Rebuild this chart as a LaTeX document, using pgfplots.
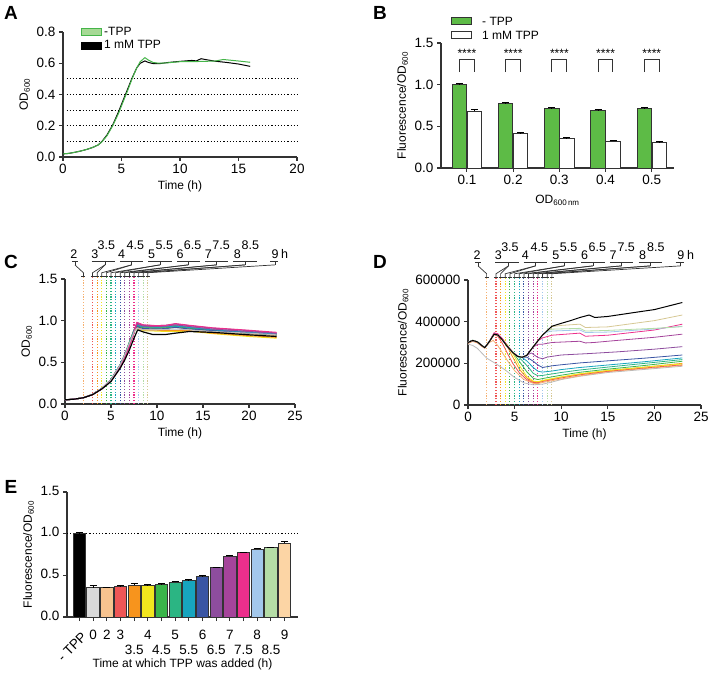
\documentclass[border=0pt]{standalone}
\usepackage{fontspec}
\setmainfont{Liberation Sans}
\usepackage{pgfplots}
\pgfplotsset{compat=1.18}

\definecolor{cgreen}{HTML}{5DBB46}
\definecolor{lgreen}{HTML}{A6D995}
\definecolor{agreen}{HTML}{45B549}
\definecolor{c0}{HTML}{D9D9D9}
\definecolor{c2}{HTML}{F7C38F}
\definecolor{c3}{HTML}{EF5656}
\definecolor{c35}{HTML}{F7941D}
\definecolor{c4}{HTML}{F2E61E}
\definecolor{c45}{HTML}{3AB54A}
\definecolor{c5}{HTML}{2BB583}
\definecolor{c55}{HTML}{17A5BF}
\definecolor{c6}{HTML}{3A55A4}
\definecolor{c65}{HTML}{8E4D9E}
\definecolor{c7}{HTML}{A5449B}
\definecolor{c75}{HTML}{EC2F8C}
\definecolor{c8}{HTML}{A3C8EC}
\definecolor{c85}{HTML}{B5DDA6}
\definecolor{c9}{HTML}{FCD5A5}
\definecolor{c9l}{HTML}{D6C894}
\definecolor{c2l}{HTML}{F5B070}
\definecolor{c0l}{HTML}{BBBBBB}
\definecolor{axc}{HTML}{333333}

\newcommand\tkf{\fontsize{13.5}{15}\selectfont}
\newcommand\lbf{\fontsize{12}{14}\selectfont}
\newcommand\anf{\fontsize{12.5}{14}\selectfont}

\pgfplotsset{
  panel/.style={
    scale only axis, axis lines=left,
    axis line style={-, line width=1.1pt, axc},
    tick style={line width=1.1pt, axc}, tick align=outside, major tick length=4pt,
    tick label style={font=\tkf},
    label style={font=\lbf},
    /pgf/number format/assume math mode=true,
    clip=false,
  },
  eb/.style={draw=axc, line width=0.8pt,
    error bars/y dir=plus, error bars/y explicit,
    error bars/error bar style={line width=1pt, black},
    error bars/error mark options={rotate=90, mark size=3.5pt, line width=1pt, black}},
}

% vertical dotted line at a time (rel x = t/25)
\newcommand{\annV}[2]{\draw[#1, dash pattern=on 1.2pt off 1.6pt, line width=1.1pt] (rel axis cs:#2,0) -- (rel axis cs:#2,1.02);}
% leader from underline tick (#2) to time (#1)
\newcommand{\annD}[2]{%
  \draw[axc, line width=0.7pt] (rel axis cs:#2,1.113) -- (rel axis cs:#1,1.05) -- (rel axis cs:#1,1.024);
  \draw[axc, line width=0.7pt] ([xshift=-2pt]rel axis cs:#1,1.024) -- ([xshift=2pt]rel axis cs:#1,1.024);}
\newcommand{\annU}[3]{%
  \draw[axc, line width=0.7pt] (rel axis cs:#1,1.145) -- (rel axis cs:#2,1.145);
  \draw[axc, line width=0.7pt] (rel axis cs:#3,1.145) -- (rel axis cs:#3,1.113);}
\newcommand{\annL}[2]{\node[anchor=base, font=\anf, inner sep=0pt] at (rel axis cs:#1,1.16) {#2};}
\newcommand{\annS}[2]{\node[anchor=base, font=\anf, inner sep=0pt] at (rel axis cs:#1,1.232) {#2};}
\newcommand{\timelines}{%
  \annV{c2l}{0.08}\annV{c3}{0.12}\annV{c35}{0.14}\annV{c4}{0.16}\annV{c45}{0.18}
  \annV{c5}{0.20}\annV{c55}{0.22}\annV{c6}{0.24}\annV{c65}{0.26}\annV{c7}{0.28}
  \annV{c75}{0.30}\annV{c8}{0.32}\annV{c85}{0.34}\annV{c9l}{0.36}}
\newcommand{\timeannot}{%
  \annU{0.030}{0.056}{0.043}\annD{0.08}{0.043}\annL{0.039}{2}
  \annU{0.116}{0.217}{0.174}\annD{0.12}{0.174}\annD{0.14}{0.174}\annL{0.130}{3}\annS{0.180}{3.5}
  \annU{0.239}{0.341}{0.290}\annD{0.16}{0.290}\annD{0.18}{0.290}\annL{0.246}{4}\annS{0.306}{4.5}
  \annU{0.362}{0.464}{0.413}\annD{0.20}{0.413}\annD{0.22}{0.413}\annL{0.377}{5}\annS{0.432}{5.5}
  \annU{0.486}{0.587}{0.536}\annD{0.24}{0.536}\annD{0.26}{0.536}\annL{0.500}{6}\annS{0.555}{6.5}
  \annU{0.609}{0.710}{0.659}\annD{0.28}{0.659}\annD{0.30}{0.659}\annL{0.623}{7}\annS{0.679}{7.5}
  \annU{0.732}{0.833}{0.783}\annD{0.32}{0.783}\annD{0.34}{0.783}\annL{0.749}{8}\annS{0.806}{8.5}
  \annU{0.891}{0.927}{0.913}\annD{0.36}{0.913}\annL{0.913}{9}\annL{0.955}{h}}

\begin{document}
\begin{tikzpicture}
\useasboundingbox (0pt,0pt) rectangle (708pt,677pt);

\node[font=\bfseries\fontsize{19}{20}\selectfont] at (11pt,664pt) {A};
\node[font=\bfseries\fontsize{19}{20}\selectfont] at (380pt,664pt) {B};
\node[font=\bfseries\fontsize{19}{20}\selectfont] at (11pt,415pt) {C};
\node[font=\bfseries\fontsize{19}{20}\selectfont] at (380pt,415pt) {D};
\node[font=\bfseries\fontsize{19}{20}\selectfont] at (11pt,190pt) {E};

% ---------------- A ----------------
\begin{axis}[panel, at={(63pt,520pt)}, anchor=south west, width=234pt, height=125pt,
  xmin=0, xmax=20, ymin=0, ymax=0.8,
  xtick={0,5,10,15,20}, ytick={0,0.2,0.4,0.6,0.8},
  yticklabel style={/pgf/number format/.cd, fixed, fixed zerofill, precision=1},
  xlabel={Time (h)}, ylabel={OD\textsubscript{600}},
  legend style={draw=none, fill=none, at={(rel axis cs:0.065,1.075)}, anchor=north west,
    font=\lbf, row sep=0pt},
  legend cell align=left,
  legend image code/.code={\draw[#1] (0pt,-3.5pt) rectangle (20pt,3.5pt);},
]
\addplot[forget plot, black, dash pattern=on 1.2pt off 2pt, line width=1.2pt] coordinates {(0.3,0.1) (20,0.1)};
\addplot[forget plot, black, dash pattern=on 1.2pt off 2pt, line width=1.2pt] coordinates {(0.3,0.2) (20,0.2)};
\addplot[forget plot, black, dash pattern=on 1.2pt off 2pt, line width=1.2pt] coordinates {(0.3,0.3) (20,0.3)};
\addplot[forget plot, black, dash pattern=on 1.2pt off 2pt, line width=1.2pt] coordinates {(0.3,0.4) (20,0.4)};
\addplot[forget plot, black, dash pattern=on 1.2pt off 2pt, line width=1.2pt] coordinates {(0.3,0.5) (20,0.5)};
\addplot[forget plot, black, line width=1pt] coordinates {
 (0,0.02)(0.5,0.023)(1,0.03)(1.5,0.038)(2,0.048)(2.5,0.06)(3,0.077)(3.3,0.097)(3.75,0.14)
 (4.25,0.205)(4.75,0.29)(5.2,0.375)(5.5,0.43)(5.9,0.505)(6.3,0.57)(6.6,0.6)(7,0.615)(7.3,0.605)
 (7.7,0.598)(8.2,0.597)(9,0.605)(10,0.612)(11,0.618)(11.4,0.615)(11.8,0.629)(12.3,0.622)
 (13,0.613)(14,0.605)(15,0.595)(16,0.58)};
\addplot[forget plot, agreen, line width=1pt] coordinates {
 (0,0.02)(0.5,0.023)(1,0.03)(1.5,0.038)(2,0.048)(2.5,0.06)(3,0.077)(3.3,0.095)(3.75,0.135)
 (4.25,0.2)(4.75,0.28)(5.2,0.365)(5.5,0.42)(5.9,0.5)(6.3,0.57)(6.6,0.61)(7,0.636)(7.3,0.62)
 (7.7,0.605)(8.2,0.6)(9,0.603)(10,0.61)(11,0.61)(12,0.612)(13,0.614)(13.7,0.624)(14.5,0.618)
 (15.3,0.612)(16,0.606)};
\addlegendimage{fill=lgreen, draw=agreen, line width=0.8pt}
\addlegendentry{-TPP}
\addlegendimage{fill=black, draw=black, line width=0.8pt}
\addlegendentry{1 mM TPP}
\end{axis}

% ---------------- B ----------------
\begin{axis}[panel, at={(441pt,509pt)}, anchor=south west, width=233pt, height=125pt,
  ybar=0.5pt, bar width=14.5pt,
  xmin=-0.56, xmax=4.48, ymin=0, ymax=1.5,
  xtick={0,1,2,3,4}, xticklabels={0.1,0.2,0.3,0.4,0.5},
  ytick={0,0.5,1,1.5},
  yticklabel style={/pgf/number format/.cd, fixed, fixed zerofill, precision=1},
  xlabel={OD\textsubscript{600\,nm}}, ylabel={Fluorescence/OD\textsubscript{600}},
  xlabel style={yshift=-3pt},
]
\addplot[eb, fill=cgreen] coordinates {
 (0,1.0) +- (0,0.015) (1,0.77) +- (0,0.02) (2,0.71) +- (0,0.015) (3,0.69) +- (0,0.01) (4,0.715) +- (0,0.006)};
\addplot[eb, fill=white] coordinates {
 (0,0.685) +- (0,0.015) (1,0.415) +- (0,0.006) (2,0.36) +- (0,0.005) (3,0.325) +- (0,0.005) (4,0.31) +- (0,0.005)};
\draw[axc, line width=1pt] (axis cs:-0.16,1.15) |- (axis cs:0.16,1.3) -- (axis cs:0.16,1.15);
\draw[axc, line width=1pt] (axis cs:0.84,1.15) |- (axis cs:1.16,1.3) -- (axis cs:1.16,1.15);
\draw[axc, line width=1pt] (axis cs:1.84,1.15) |- (axis cs:2.16,1.3) -- (axis cs:2.16,1.15);
\draw[axc, line width=1pt] (axis cs:2.84,1.15) |- (axis cs:3.16,1.3) -- (axis cs:3.16,1.15);
\draw[axc, line width=1pt] (axis cs:3.84,1.15) |- (axis cs:4.16,1.3) -- (axis cs:4.16,1.15);
\node[font=\fontsize{12}{12}\selectfont] at (axis cs:0,1.37) {****};
\node[font=\fontsize{12}{12}\selectfont] at (axis cs:1,1.37) {****};
\node[font=\fontsize{12}{12}\selectfont] at (axis cs:2,1.37) {****};
\node[font=\fontsize{12}{12}\selectfont] at (axis cs:3,1.37) {****};
\node[font=\fontsize{12}{12}\selectfont] at (axis cs:4,1.37) {****};
% legend swatches
\draw[fill=cgreen, draw=axc, line width=0.8pt] ([yshift=-3.5pt]rel axis cs:0.043,1.176) rectangle ([xshift=20pt,yshift=3.5pt]rel axis cs:0.043,1.176);
\node[anchor=west, font=\lbf, inner sep=0pt] at ([xshift=31pt]rel axis cs:0.043,1.176) {- TPP};
\draw[fill=white, draw=axc, line width=0.8pt] ([yshift=-3.5pt]rel axis cs:0.043,1.064) rectangle ([xshift=20pt,yshift=3.5pt]rel axis cs:0.043,1.064);
\node[anchor=west, font=\lbf, inner sep=0pt] at ([xshift=31pt]rel axis cs:0.043,1.064) {1 mM TPP};
\end{axis}

% ---------------- C ----------------
\begin{axis}[panel, at={(65pt,273pt)}, anchor=south west, width=230pt, height=125pt,
  xmin=0, xmax=25, ymin=0, ymax=1.5,
  xtick={0,5,10,15,20,25}, ytick={0,0.5,1,1.5},
  yticklabel style={/pgf/number format/.cd, fixed, fixed zerofill, precision=1},
  xlabel={Time (h)}, ylabel={OD\textsubscript{600}},
  every axis plot/.append style={line width=1pt, line join=round},
]
\timelines
\addplot[c9l] coordinates {(0,.05)(1,.058)(2,.075)(3,.115)(4,.185)(5,.29)(6,.47)(6.5,.59)(7,.73)(7.5,.875)(7.8,.93)(8.5,.91)(10,.905)(11,.91)(12,.92)(13.5,.905)(16,.875)(20,.845)(23,.82)};
\addplot[c85] coordinates {(0,.05)(1,.058)(2,.075)(3,.115)(4,.185)(5,.29)(6,.47)(6.5,.59)(7,.73)(7.5,.88)(7.8,.94)(8.5,.92)(10,.915)(11,.92)(12,.93)(13.5,.915)(16,.885)(20,.86)(23,.84)};
\addplot[c8] coordinates {(0,.05)(1,.058)(2,.075)(3,.115)(4,.185)(5,.29)(6,.47)(6.5,.59)(7,.73)(7.5,.88)(7.8,.95)(8.5,.925)(10,.92)(11,.925)(12,.94)(13.5,.92)(16,.89)(20,.86)(23,.84)};
\addplot[c4] coordinates {(0,.05)(1,.058)(2,.075)(3,.115)(4,.185)(5,.29)(6,.47)(6.5,.59)(7,.72)(7.5,.86)(7.8,.91)(8.5,.88)(10,.875)(11,.87)(12,.87)(13.5,.875)(16,.845)(20,.81)(23,.79)};
\addplot[c35] coordinates {(0,.05)(1,.058)(2,.075)(3,.115)(4,.185)(5,.29)(6,.47)(6.5,.59)(7,.73)(7.5,.87)(7.8,.92)(8.5,.89)(10,.885)(11,.88)(12,.88)(13.5,.88)(16,.85)(20,.82)(23,.80)};
\addplot[c2] coordinates {(0,.05)(1,.058)(2,.075)(3,.115)(4,.186)(5,.29)(6,.47)(6.5,.59)(7,.74)(7.5,.88)(7.8,.93)(8.5,.91)(10,.905)(11,.91)(12,.92)(13.5,.90)(16,.87)(20,.84)(23,.82)};
\addplot[c3] coordinates {(0,.05)(1,.058)(2,.075)(3,.115)(4,.185)(5,.29)(6,.47)(6.5,.59)(7,.74)(7.5,.89)(7.8,.95)(8.5,.925)(10,.92)(11,.925)(12,.94)(13.5,.92)(16,.89)(20,.86)(23,.83)};
\addplot[c45] coordinates {(0,.05)(1,.058)(2,.075)(3,.115)(4,.185)(5,.29)(6,.47)(6.5,.59)(7,.74)(7.5,.88)(7.8,.94)(8.5,.915)(10,.91)(11,.915)(12,.93)(13.5,.91)(16,.88)(20,.85)(23,.83)};
\addplot[c5] coordinates {(0,.05)(1,.058)(2,.075)(3,.115)(4,.185)(5,.29)(6,.47)(6.5,.59)(7,.74)(7.5,.89)(7.8,.95)(8.5,.925)(10,.92)(11,.925)(12,.94)(13.5,.92)(16,.89)(20,.86)(23,.84)};
\addplot[c55] coordinates {(0,.05)(1,.058)(2,.075)(3,.115)(4,.185)(5,.29)(6,.47)(6.5,.59)(7,.73)(7.5,.88)(7.8,.94)(8.5,.93)(10,.925)(11,.93)(12,.935)(13.5,.92)(16,.89)(20,.86)(23,.84)};
\addplot[c6] coordinates {(0,.05)(1,.058)(2,.075)(3,.115)(4,.185)(5,.29)(6,.47)(6.5,.59)(7,.72)(7.5,.87)(7.8,.93)(8.5,.905)(10,.90)(11,.905)(12,.92)(13.5,.90)(16,.88)(20,.85)(23,.83)};
\addplot[c7] coordinates {(0,.05)(1,.058)(2,.075)(3,.115)(4,.185)(5,.29)(6,.46)(6.5,.58)(7,.70)(7.5,.86)(7.8,.96)(8.5,.935)(10,.93)(11,.935)(12,.95)(13.5,.93)(16,.90)(20,.87)(23,.85)};
\addplot[c65] coordinates {(0,.05)(1,.058)(2,.075)(3,.115)(4,.185)(5,.29)(6,.46)(6.5,.58)(7,.71)(7.5,.87)(7.8,.97)(8.5,.945)(10,.94)(11,.945)(12,.96)(13.5,.94)(16,.91)(20,.88)(23,.85)};
\addplot[c75] coordinates {(0,.05)(1,.058)(2,.075)(3,.113)(4,.18)(5,.28)(6,.44)(6.5,.55)(7,.69)(7.5,.86)(7.8,.98)(8.5,.95)(10,.94)(11,.945)(12,.965)(13.5,.945)(16,.915)(20,.885)(23,.86)};
\addplot[c0l] coordinates {(0,.05)(1,.058)(2,.076)(3,.116)(4,.186)(5,.29)(6,.47)(6.5,.59)(7,.73)(7.5,.86)(7.8,.91)(8.5,.89)(10,.89)(11,.895)(12,.90)(13.5,.89)(16,.87)(20,.85)(23,.83)};
\addplot[black, line width=1.2pt] coordinates {(0,.05)(1,.058)(2,.075)(3,.112)(4,.18)(5,.27)(6,.43)(6.5,.53)(7,.65)(7.5,.79)(7.9,.89)(8.5,.865)(9.5,.835)(11,.835)(12,.85)(13.5,.87)(16,.86)(20,.83)(23,.81)};
\timeannot
\end{axis}

% ---------------- D ----------------
\begin{axis}[panel, at={(468pt,272pt)}, anchor=south west, width=233pt, height=125pt,
  xmin=0, xmax=25, ymin=0, ymax=600000,
  xtick={0,5,10,15,20,25}, ytick={0,200000,400000,600000},
  scaled y ticks=false,
  yticklabel style={/pgf/number format/.cd, fixed, 1000 sep={}},
  xlabel={Time (h)}, ylabel={Fluorescence/OD\textsubscript{600}},
  every axis plot/.append style={line width=0.8pt, line join=round},
]
\timelines
\addplot[c0l] coordinates {(0,292000)(0.5,286000)(1,272000)(2,225000)(3,198000)(4,168000)(5,132000)(6,106000)(7,97000)(8,100000)(9,110000)(10,122000)(12,138000)(15,156000)(19,171000)(23,186000)};
\addplot[c2l] coordinates {(0,296000)(0.5,305000)(1,298000)(1.5,280000)(1.8,272000)(2.3,300000)(2.7,310000)(3.2,285000)(3.7,250000)(4.2,215000)(5,165000)(6,122000)(7,104000)(7.5,103000)(8,108000)(10,125000)(12,140000)(15,160000)(19,175000)(23,190000)};
\addplot[c3] coordinates {(0,298000)(0.5,308000)(1,301000)(1.5,283000)(1.8,274000)(2.3,303000)(2.8,338000)(3.2,330000)(3.7,295000)(4.2,250000)(4.8,200000)(5.5,155000)(6.3,122000)(7,108000)(7.5,107000)(8,113000)(10,130000)(12,145000)(15,162000)(19,178000)(23,193000)};
\addplot[c35] coordinates {(0,300000)(0.5,309000)(1,302000)(1.5,284000)(1.8,275000)(2.3,304000)(2.8,339000)(3.2,335000)(3.7,318000)(4.2,282000)(4.8,230000)(5.5,172000)(6.3,130000)(7,112000)(7.5,110000)(8,116000)(10,134000)(12,148000)(15,165000)(19,182000)(23,200000)};
\addplot[c4] coordinates {(0,300000)(0.5,310000)(1,303000)(1.5,285000)(1.8,275000)(2.3,305000)(2.8,340000)(3.2,336000)(3.7,312000)(4.2,290000)(4.8,248000)(5.5,190000)(6.3,138000)(7,115000)(7.5,112000)(8,118000)(10,135000)(12,150000)(15,166000)(19,182000)(23,197000)};
\addplot[c45] coordinates {(0,301000)(0.5,311000)(1,304000)(1.5,286000)(1.8,276000)(2.3,306000)(2.8,341000)(3.2,337000)(3.7,313000)(4.2,282000)(4.8,255000)(5.5,210000)(6.3,160000)(7,128000)(7.5,122000)(8,127000)(10,143000)(12,157000)(15,172000)(19,190000)(23,210000)};
\addplot[c5] coordinates {(0,300000)(0.5,310000)(1,303000)(1.5,285000)(1.8,275000)(2.3,305000)(2.8,340000)(3.2,336000)(3.7,312000)(4.2,282000)(4.8,252000)(5.3,236000)(6,205000)(6.5,180000)(7,152000)(7.5,140000)(8,142000)(10,156000)(12,168000)(15,182000)(19,200000)(23,218000)};
\addplot[c55] coordinates {(0,300000)(0.5,310000)(1,303000)(1.5,285000)(1.8,275000)(2.3,305000)(2.8,340000)(3.2,336000)(3.7,312000)(4.2,282000)(4.8,252000)(5.3,234000)(5.8,228000)(6.3,212000)(7,180000)(7.5,162000)(8,158000)(9,163000)(10,170000)(12,180000)(15,192000)(19,208000)(23,226000)};
\addplot[c6] coordinates {(0,300000)(0.5,310000)(1,303000)(1.5,285000)(1.8,275000)(2.3,305000)(2.8,340000)(3.2,336000)(3.7,312000)(4.2,282000)(4.8,252000)(5.3,234000)(5.8,229000)(6.3,230000)(7,210000)(7.5,192000)(8,180000)(9,188000)(10,193000)(12,202000)(15,212000)(19,225000)(23,240000)};
\addplot[c65] coordinates {(0,300000)(0.5,310000)(1,303000)(1.5,285000)(1.8,275000)(2.3,305000)(2.8,342000)(3.2,338000)(3.7,314000)(4.2,283000)(4.8,252000)(5.3,234000)(5.8,229000)(6.3,238000)(6.8,250000)(7.5,228000)(8,222000)(8.5,230000)(10,240000)(13,247000)(16,255000)(20,268000)(23,280000)};
\addplot[c7] coordinates {(0,300000)(0.5,310000)(1,303000)(1.5,285000)(1.8,275000)(2.3,305000)(2.8,344000)(3.2,340000)(3.7,316000)(4.2,284000)(4.8,253000)(5.3,234000)(5.8,229000)(6.3,238000)(7,278000)(7.5,292000)(8,292000)(9,300000)(12,306000)(12.6,298000)(13.5,300000)(16,310000)(20,325000)(23,340000)};
\addplot[c75] coordinates {(0,300000)(0.5,310000)(1,303000)(1.5,285000)(1.8,275000)(2.3,306000)(2.8,347000)(3.2,342000)(3.7,318000)(4.2,286000)(4.8,254000)(5.3,235000)(5.8,229000)(6.3,238000)(7,280000)(7.5,308000)(8,322000)(9,335000)(12,345000)(12.6,330000)(15,335000)(20,360000)(23,388000)};
\addplot[c8] coordinates {(0,300000)(0.5,310000)(1,303000)(1.5,285000)(1.8,275000)(2.3,305000)(2.8,340000)(3.2,336000)(3.7,312000)(4.2,282000)(4.8,252000)(5.3,234000)(5.8,229000)(6.3,238000)(7,280000)(7.5,308000)(8,336000)(8.5,350000)(9,355000)(12,360000)(12.6,348000)(15,350000)(20,365000)(23,378000)};
\addplot[c85] coordinates {(0,300000)(0.5,310000)(1,303000)(1.5,285000)(1.8,275000)(2.3,305000)(2.8,340000)(3.2,336000)(3.7,312000)(4.2,282000)(4.8,252000)(5.3,234000)(5.8,229000)(6.3,238000)(7,280000)(7.5,308000)(8,336000)(8.5,356000)(9,364000)(12,368000)(12.6,355000)(15,358000)(20,368000)(23,376000)};
\addplot[c9l] coordinates {(0,300000)(0.5,310000)(1,303000)(1.5,285000)(1.8,275000)(2.3,305000)(2.8,340000)(3.2,336000)(3.7,312000)(4.2,282000)(4.8,252000)(5.3,234000)(5.8,229000)(6.3,238000)(7,280000)(7.5,308000)(8,336000)(9,376000)(10,382000)(12,388000)(12.6,372000)(15,375000)(20,405000)(23,432000)};
\addplot[black, line width=1pt] coordinates {(0,300000)(0.5,310000)(1,303000)(1.5,285000)(1.8,275000)(2.3,305000)(2.8,340000)(3.2,336000)(3.7,312000)(4.2,282000)(4.8,252000)(5.3,234000)(5.8,229000)(6.3,238000)(7,280000)(7.5,308000)(8,336000)(9,378000)(10,392000)(11,405000)(12,420000)(13,432000)(13.6,420000)(15,425000)(18,445000)(20,458000)(23,492000)};
\timeannot
\end{axis}

% ---------------- E ----------------
\begin{axis}[panel, at={(67pt,60pt)}, anchor=south west, width=231pt, height=125pt,
  ybar, bar width=12.5pt,
  xmin=-0.91, xmax=15.98, ymin=0, ymax=1.5,
  xtick={1,...,15},
  xticklabels={0,2,3,{\\3.5},4,{\\4.5},5,{\\5.5},6,{\\6.5},7,{\\7.5},8,{\\8.5},9},
  xticklabel style={align=center, font=\tkf, yshift=-4pt},
  typeset ticklabels with strut,
  extra x ticks={0}, extra x tick labels={- TPP},
  extra x tick style={xticklabel style={rotate=45, anchor=north east, xshift=0pt, yshift=-1pt}},
  ytick={0,0.5,1,1.5},
  yticklabel style={/pgf/number format/.cd, fixed, fixed zerofill, precision=1},
  xlabel={Time at which TPP was added (h)}, ylabel={Fluorescence/OD\textsubscript{600}},
  xlabel style={at={(rel axis cs:0.5,0)}, anchor=center, yshift=-47pt},
]
\addplot[forget plot, sharp plot, black, dash pattern=on 1.2pt off 2pt, line width=1.2pt] coordinates {(-0.91,1) (15.98,1)};
\addplot[eb, bar shift=0pt, fill=black] coordinates {(0,1.0) +- (0,0.02)};
\addplot[eb, bar shift=0pt, fill=c0] coordinates {(1,0.35) +- (0,0.03)};
\addplot[eb, bar shift=0pt, fill=c2] coordinates {(2,0.35) +- (0,0.01)};
\addplot[eb, bar shift=0pt, fill=c3] coordinates {(3,0.365) +- (0,0.01)};
\addplot[eb, bar shift=0pt, fill=c35] coordinates {(4,0.38) +- (0,0.02)};
\addplot[eb, bar shift=0pt, fill=c4] coordinates {(5,0.375) +- (0,0.01)};
\addplot[eb, bar shift=0pt, fill=c45] coordinates {(6,0.39) +- (0,0.01)};
\addplot[eb, bar shift=0pt, fill=c5] coordinates {(7,0.42) +- (0,0.012)};
\addplot[eb, bar shift=0pt, fill=c55] coordinates {(8,0.435) +- (0,0.012)};
\addplot[eb, bar shift=0pt, fill=c6] coordinates {(9,0.485) +- (0,0.015)};
\addplot[eb, bar shift=0pt, fill=c65] coordinates {(10,0.592) +- (0,0.008)};
\addplot[eb, bar shift=0pt, fill=c7] coordinates {(11,0.727) +- (0,0.015)};
\addplot[eb, bar shift=0pt, fill=c75] coordinates {(12,0.77) +- (0,0.01)};
\addplot[eb, bar shift=0pt, fill=c8] coordinates {(13,0.815) +- (0,0.012)};
\addplot[eb, bar shift=0pt, fill=c85] coordinates {(14,0.83) +- (0,0.01)};
\addplot[eb, bar shift=0pt, fill=c9] coordinates {(15,0.885) +- (0,0.025)};
\end{axis}
\end{tikzpicture}
\end{document}
